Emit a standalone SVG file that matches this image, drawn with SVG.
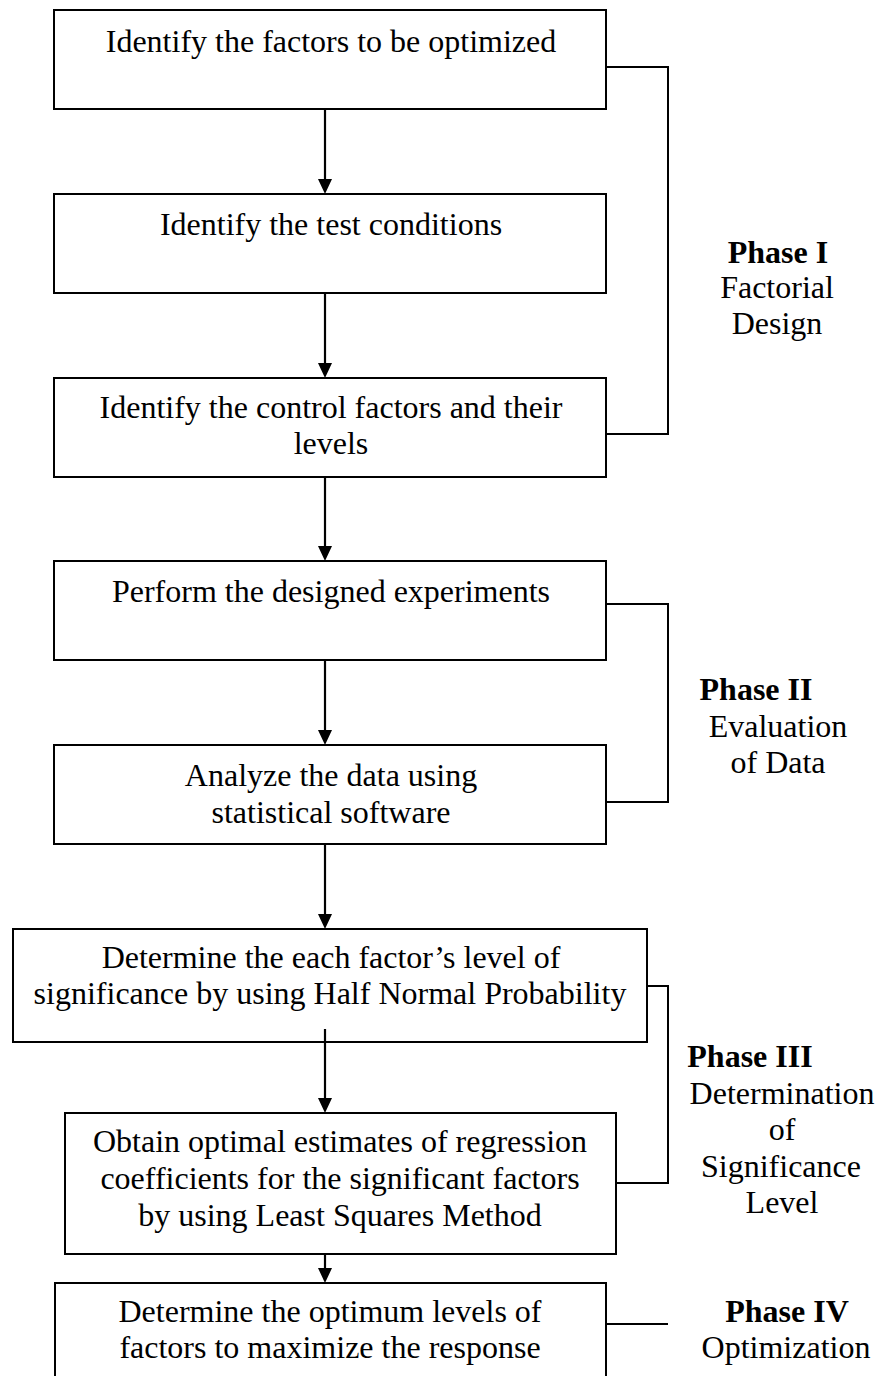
<svg xmlns="http://www.w3.org/2000/svg" width="889" height="1376" viewBox="0 0 889 1376">
<style>
.box{fill:#fff;stroke:#000;stroke-width:2}
.t{font-family:"Liberation Serif","Times New Roman",serif;font-size:32px;fill:#000;text-anchor:middle}
.b{font-weight:bold}
.arr{stroke:#000;stroke-width:2.2;fill:none}
.br{stroke:#000;stroke-width:2;fill:none}
</style>
<defs>
<marker id="ah" viewBox="0 0 15 14" refX="0" refY="7" markerWidth="15" markerHeight="14" markerUnits="userSpaceOnUse" orient="auto">
<path d="M0,0 L15,7 L0,14 z" fill="#000"/>
</marker>
</defs>
<rect width="889" height="1376" fill="#fff"/>
<g id="n1"><rect class="box" x="54" y="10" width="552" height="99"/><text class="t" x="331" y="52">Identify the factors to be optimized</text></g>
<g id="n2"><rect class="box" x="54" y="194" width="552" height="99"/><text class="t" x="331" y="235">Identify the test conditions</text></g>
<g id="n3"><rect class="box" x="54" y="378" width="552" height="99"/><text class="t" x="331" y="418">Identify the control factors and their</text><text class="t" x="331" y="454">levels</text></g>
<g id="n4"><rect class="box" x="54" y="561" width="552" height="99"/><text class="t" x="331" y="602">Perform the designed experiments</text></g>
<g id="n5"><rect class="box" x="54" y="745" width="552" height="99"/><text class="t" x="331" y="786">Analyze the data using</text><text class="t" x="331" y="823">statistical software</text></g>
<g id="n6"><rect class="box" x="13" y="929" width="634" height="113"/><text class="t" x="331" y="968">Determine the each factor’s level of</text><text class="t" x="330" y="1004">significance by using Half Normal Probability</text></g>
<g id="n7"><rect class="box" x="65" y="1113" width="551" height="141"/><text class="t" x="340" y="1152">Obtain optimal estimates of regression</text><text class="t" x="340" y="1189">coefficients for the significant factors</text><text class="t" x="340" y="1226">by using Least Squares Method</text></g>
<g id="n8"><rect class="box" x="55" y="1283" width="551" height="110"/><text class="t" x="330" y="1322">Determine the optimum levels of</text><text class="t" x="330" y="1358">factors to maximize the response</text></g>
<g id="p1"><text class="t b" x="778" y="263">Phase I</text><text class="t" x="777" y="298">Factorial</text><text class="t" x="777" y="334">Design</text></g>
<g id="p2"><text class="t b" x="756" y="700">Phase II</text><text class="t" x="778" y="737">Evaluation</text><text class="t" x="778" y="773">of Data</text></g>
<g id="p3"><text class="t b" x="750" y="1067">Phase III</text><text class="t" x="782" y="1104">Determination</text><text class="t" x="782" y="1140">of</text><text class="t" x="781" y="1177">Significance</text><text class="t" x="782" y="1213">Level</text></g>
<g id="p4"><text class="t b" x="787" y="1322">Phase IV</text><text class="t" x="786" y="1358">Optimization</text></g>
<g id="connectors">
<line class="arr" x1="325" y1="109" x2="325" y2="179" marker-end="url(#ah)"/>
<line class="arr" x1="325" y1="293" x2="325" y2="363" marker-end="url(#ah)"/>
<line class="arr" x1="325" y1="477" x2="325" y2="546" marker-end="url(#ah)"/>
<line class="arr" x1="325" y1="660" x2="325" y2="730" marker-end="url(#ah)"/>
<line class="arr" x1="325" y1="844" x2="325" y2="914" marker-end="url(#ah)"/>
<line class="arr" x1="325" y1="1029" x2="325" y2="1098" marker-end="url(#ah)"/>
<line class="arr" x1="325" y1="1254" x2="325" y2="1268" marker-end="url(#ah)"/>
<polyline class="br" points="606,67 668,67 668,434 606,434"/>
<polyline class="br" points="606,604 668,604 668,802 606,802"/>
<polyline class="br" points="647,986 668,986 668,1183 616,1183"/>
<line class="br" x1="606" y1="1324" x2="668" y2="1324"/>
</g>
</svg>
